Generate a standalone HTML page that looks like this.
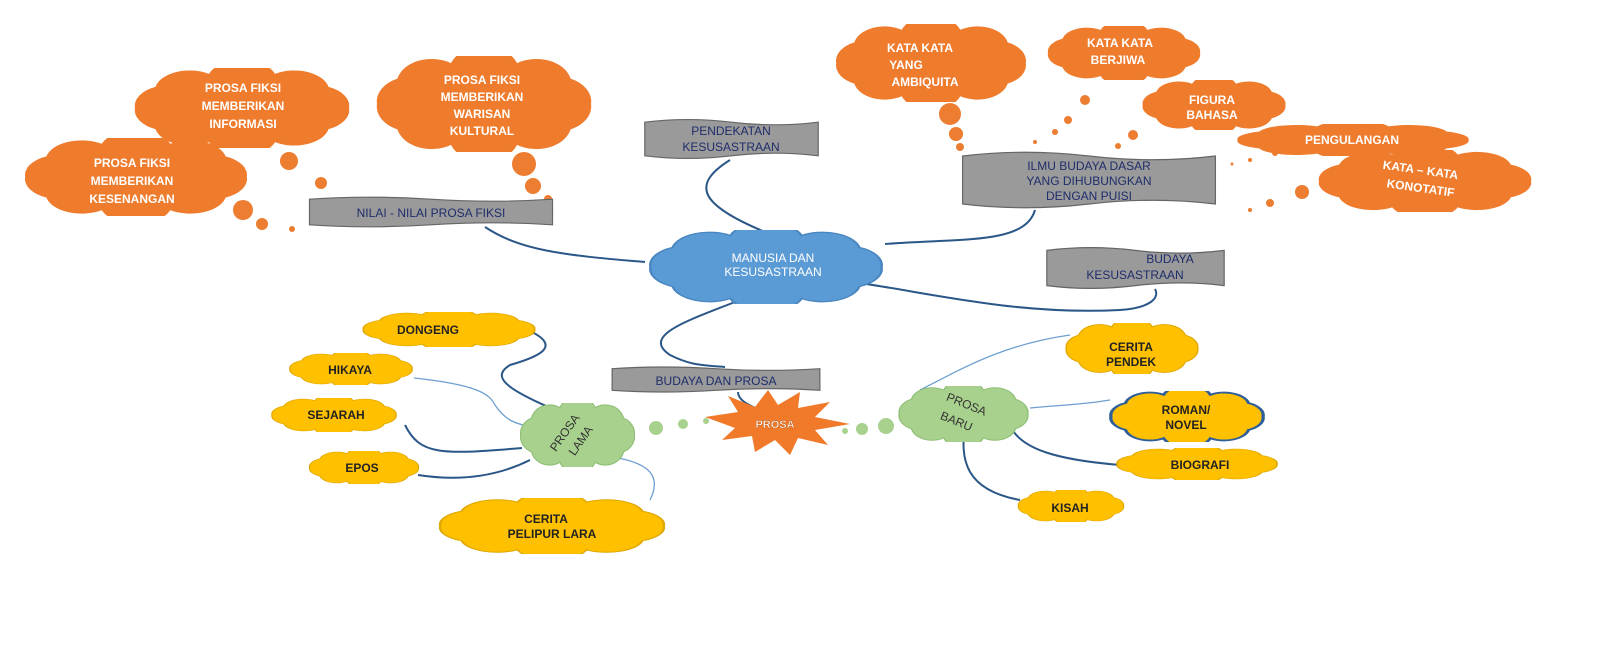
<!DOCTYPE html>
<html><head><meta charset="utf-8"><style>
html,body{margin:0;padding:0;background:#fff;width:1600px;height:664px;overflow:hidden}
svg{display:block}
text{font-family:"Liberation Sans",sans-serif;font-weight:bold;text-anchor:middle}
.o{fill:#fff;font-size:12px}
.g{fill:#1f2d6b;font-size:12px;font-weight:normal}
.y{fill:#222;font-size:12px}
</style></head><body>
<svg width="1600" height="664" viewBox="0 0 1600 664" xmlns="http://www.w3.org/2000/svg">
<defs>
<symbol id="cl" viewBox="1 1 98 58" preserveAspectRatio="none">
<path d="M4,30 A15,15 0 0 1 12.8,14.7 A15,15 0 0 1 35.8,5.3 A15,15 0 0 1 64.2,5.3 A15,15 0 0 1 87.2,14.7 A15,15 0 0 1 96,30 A15,15 0 0 1 87.2,45.3 A15,15 0 0 1 64.2,54.7 A15,15 0 0 1 35.8,54.7 A15,15 0 0 1 12.8,45.3 A15,15 0 0 1 4,30 Z"/>
</symbol>
<symbol id="fl" viewBox="0 0 100 40" preserveAspectRatio="none">
<path d="M1,4 Q25,-1 50,4 T99,4 L99,36 Q75,31 50,36 T1,36 Z" fill="#9a9a9a" stroke="#666" stroke-width="1.2" vector-effect="non-scaling-stroke"/>
</symbol>
</defs>

<g fill="none" stroke="#2b5788" stroke-width="2">
<path d="M730,160 C690,185 700,205 765,232"/>
<path d="M485,227 C520,250 560,255 645,262"/>
<path d="M885,244 C960,238 1025,245 1035,210"/>
<path d="M860,283 C940,295 1020,315 1120,310 C1150,308 1160,298 1155,289"/>
<path d="M740,300 C690,320 640,335 670,355 C690,365 700,365 725,367"/>
<path d="M738,392 C738,400 748,405 760,410"/>
<path d="M528,330 C560,345 545,355 510,365 C485,380 520,395 578,420"/>
<path d="M405,425 C420,455 440,455 522,448"/>
<path d="M418,475 C450,480 490,480 530,460"/>
<path d="M965,425 C960,460 965,490 1020,500"/>
<path d="M1010,425 C1020,450 1060,460 1120,465"/>
</g>
<g fill="none" stroke="#6e9fd0" stroke-width="1.3">
<path d="M414,378 C480,385 490,395 495,405 C505,420 515,425 540,428"/>
<path d="M600,455 C640,460 665,470 650,500"/>
<path d="M920,390 C960,370 1000,345 1070,335"/>
<path d="M1030,408 C1060,405 1080,405 1110,400"/>
</g>

<g fill="#ed7d31">
<circle cx="289" cy="161" r="9"/><circle cx="321" cy="183" r="6"/><circle cx="348" cy="202" r="3"/>
<circle cx="243" cy="210" r="10"/><circle cx="262" cy="224" r="6"/><circle cx="292" cy="229" r="3"/>
<circle cx="524" cy="164" r="12"/><circle cx="533" cy="186" r="8"/><circle cx="548" cy="199" r="4"/>
<circle cx="950" cy="114" r="11"/><circle cx="956" cy="134" r="7"/><circle cx="960" cy="147" r="4"/>
<circle cx="1085" cy="100" r="5"/><circle cx="1068" cy="120" r="4"/><circle cx="1055" cy="132" r="3"/><circle cx="1035" cy="142" r="2"/>
<circle cx="1133" cy="135" r="5"/><circle cx="1118" cy="146" r="3"/>
<circle cx="1275" cy="153" r="3"/><circle cx="1250" cy="160" r="2"/><circle cx="1232" cy="164" r="1.5"/>
<circle cx="1302" cy="192" r="7"/><circle cx="1270" cy="203" r="4"/><circle cx="1250" cy="210" r="2"/>
</g>

<g fill="#ef7b2c">
<use href="#cl" x="128" y="68" width="228" height="80"/>
<use href="#cl" x="370" y="56" width="228" height="96"/>
<use href="#cl" x="18" y="138" width="236" height="78"/>
<use href="#cl" x="830" y="24" width="202" height="78"/>
<use href="#cl" x="1043" y="26" width="162" height="54"/>
<use href="#cl" x="1138" y="80" width="152" height="50"/>
<use href="#cl" x="1230" y="124" width="246" height="32"/>
<use href="#cl" x="1312" y="150" width="226" height="62"/>
</g>
<text class="o" x="243" y="92">PROSA FIKSI</text><text class="o" x="243" y="110">MEMBERIKAN</text><text class="o" x="243" y="128">INFORMASI</text>
<text class="o" x="482" y="84">PROSA FIKSI</text><text class="o" x="482" y="101">MEMBERIKAN</text><text class="o" x="482" y="118">WARISAN</text><text class="o" x="482" y="135">KULTURAL</text>
<text class="o" x="132" y="167">PROSA FIKSI</text><text class="o" x="132" y="185">MEMBERIKAN</text><text class="o" x="132" y="203">KESENANGAN</text>
<text class="o" x="920" y="52">KATA KATA</text><text class="o" x="906" y="69">YANG</text><text class="o" x="925" y="86">AMBIQUITA</text>
<text class="o" x="1120" y="47">KATA KATA</text><text class="o" x="1118" y="64">BERJIWA</text>
<text class="o" x="1212" y="104">FIGURA</text><text class="o" x="1212" y="119">BAHASA</text>
<text class="o" x="1352" y="144">PENGULANGAN</text>
<text class="o" x="1420" y="174" transform="rotate(8 1420 174)">KATA – KATA</text><text class="o" x="1420" y="192" transform="rotate(8 1420 192)">KONOTATIF</text>

<use href="#fl" x="643" y="118" width="177" height="42"/>
<use href="#fl" x="960" y="150" width="258" height="60"/>
<use href="#fl" x="307" y="196" width="248" height="32"/>
<use href="#fl" x="1045" y="246" width="181" height="44"/>
<use href="#fl" x="610" y="366" width="212" height="27"/>
<text class="g" x="731" y="135">PENDEKATAN</text><text class="g" x="731" y="151">KESUSASTRAAN</text>
<text class="g" x="1089" y="170">ILMU BUDAYA DASAR</text><text class="g" x="1089" y="185">YANG DIHUBUNGKAN</text><text class="g" x="1089" y="200">DENGAN PUISI</text>
<text class="g" x="431" y="217">NILAI - NILAI PROSA FIKSI</text>
<text class="g" x="1170" y="263">BUDAYA</text><text class="g" x="1135" y="279">KESUSASTRAAN</text>
<text class="g" x="716" y="385">BUDAYA DAN PROSA</text>

<use href="#cl" x="643" y="230" width="246" height="74" fill="#5b9bd5" stroke="#4a86c0"/>
<text x="773" y="262" style="fill:#fff;font-size:12px;font-weight:normal">MANUSIA DAN</text>
<text x="773" y="276" style="fill:#fff;font-size:12px;font-weight:normal">KESUSASTRAAN</text>

<g fill="#a9d18e">
<circle cx="656" cy="428" r="7"/><circle cx="683" cy="424" r="5"/><circle cx="706" cy="421" r="3"/>
<circle cx="845" cy="431" r="3"/><circle cx="862" cy="429" r="6"/><circle cx="886" cy="426" r="8"/>
</g>

<polygon fill="#f07a2a" points="705,417 738,412 728,396 755,407 768,390 778,405 800,392 798,408 830,402 815,417 850,424 815,430 828,445 798,438 790,455 775,440 755,452 752,436 722,440 735,428" />
<text x="775" y="428" style="fill:#fff;font-size:11px;stroke:#b85a1a;stroke-width:0.4">PROSA</text>

<g fill="#a9d18e" stroke="#8fbf76">
<use href="#cl" x="517" y="403" width="121" height="64"/>
<use href="#cl" x="895" y="386" width="137" height="56"/>
</g>
<text x="568" y="435" transform="rotate(-55 568 435)" style="fill:#333;font-size:12px;font-weight:normal">PROSA</text>
<text x="584" y="443" transform="rotate(-55 584 443)" style="fill:#333;font-size:12px;font-weight:normal">LAMA</text>
<text x="965" y="408" transform="rotate(22 965 408)" style="fill:#333;font-size:12px;font-weight:normal">PROSA</text>
<text x="955" y="425" transform="rotate(22 955 425)" style="fill:#333;font-size:12px;font-weight:normal">BARU</text>

<g fill="#ffc000" stroke="#e0a800">
<use href="#cl" x="358" y="312" width="182" height="35"/>
<use href="#cl" x="286" y="353" width="130" height="32"/>
<use href="#cl" x="268" y="398" width="132" height="34"/>
<use href="#cl" x="306" y="451" width="116" height="33"/>
<use href="#cl" x="433" y="498" width="238" height="56"/>
<use href="#cl" x="1062" y="323" width="140" height="51"/>
<use href="#cl" x="1112" y="448" width="170" height="32"/>
<use href="#cl" x="1015" y="490" width="112" height="32"/>
</g>
<use href="#cl" x="1106" y="391" width="162" height="51" fill="#ffc000" stroke="#2f5f99" stroke-width="2"/>
<text class="y" x="428" y="334">DONGENG</text>
<text class="y" x="350" y="374">HIKAYA</text>
<text class="y" x="336" y="419">SEJARAH</text>
<text class="y" x="362" y="472">EPOS</text>
<text class="y" x="546" y="523">CERITA</text><text class="y" x="552" y="538">PELIPUR LARA</text>
<text class="y" x="1131" y="351">CERITA</text><text class="y" x="1131" y="366">PENDEK</text>
<text class="y" x="1186" y="414">ROMAN/</text><text class="y" x="1186" y="429">NOVEL</text>
<text class="y" x="1200" y="469">BIOGRAFI</text>
<text class="y" x="1070" y="512">KISAH</text>
</svg>
</body></html>
